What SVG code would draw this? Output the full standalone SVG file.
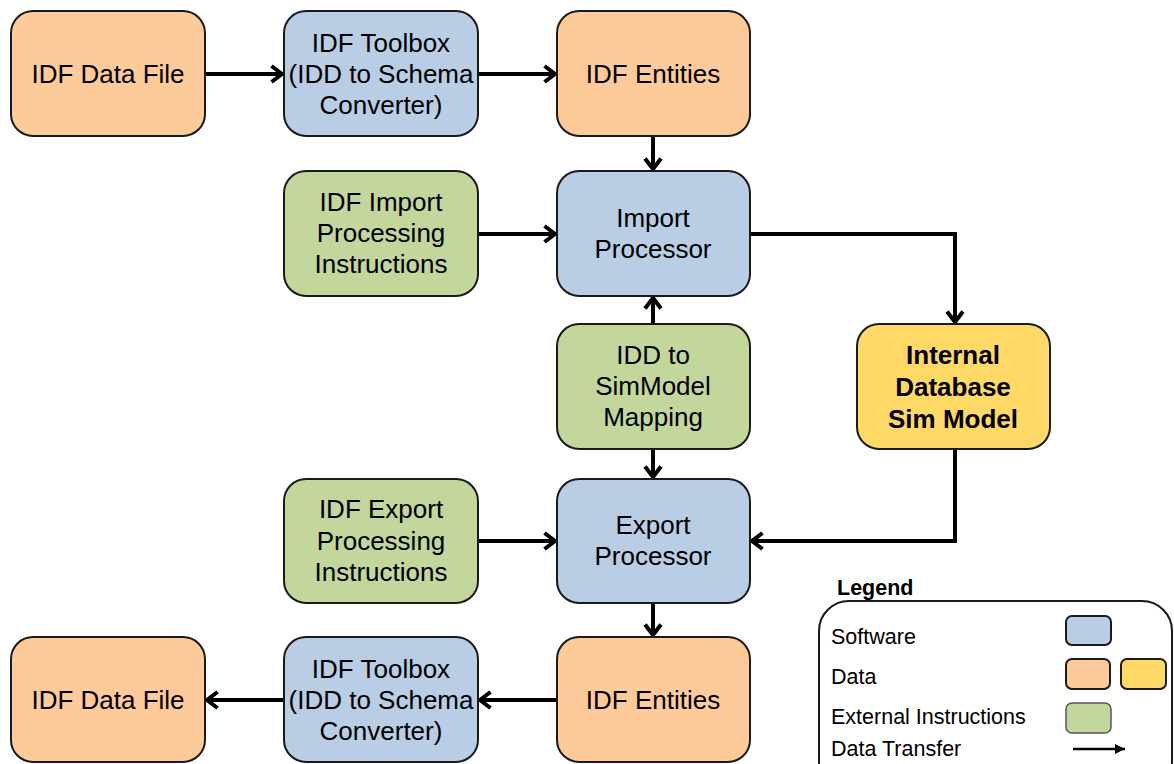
<svg xmlns="http://www.w3.org/2000/svg" width="1174" height="764" viewBox="0 0 1174 764">
<defs>
<style>
.box{stroke:#1a1a1a;stroke-width:2}
.sw{fill:#b9cde5}.da{fill:#fdca9a}.db{fill:#ffd966}.ex{fill:#c3d69b}
.t{font-family:"Liberation Sans",Arial,sans-serif;font-size:26px;fill:#000;text-anchor:middle}
.b{font-weight:bold}
.lg{font-family:"Liberation Sans",Arial,sans-serif;font-size:21.5px;fill:#000}
.c{fill:none;stroke:#000;stroke-width:4}
</style>
<marker id="ah" viewBox="0 0 14 20" refX="12" refY="10" markerWidth="14" markerHeight="20" markerUnits="userSpaceOnUse" orient="auto">
<path d="M1.5,2 L12,10 L1.5,18" fill="none" stroke="#000" stroke-width="4" stroke-linejoin="miter"/>
</marker>
<marker id="ah2" viewBox="0 0 10 10" refX="10" refY="5" markerWidth="11" markerHeight="10" markerUnits="userSpaceOnUse" orient="auto">
<path d="M0,0 L10,5 L0,10 Z" fill="#000"/>
</marker>
</defs>
<rect width="1174" height="764" fill="#fff"/>
<g id="connectors">
<line class="c" x1="205" y1="74" x2="282" y2="74" marker-end="url(#ah)"/>
<line class="c" x1="478" y1="74" x2="555" y2="74" marker-end="url(#ah)"/>
<line class="c" x1="653" y1="136" x2="653" y2="169" marker-end="url(#ah)"/>
<line class="c" x1="478" y1="234" x2="555" y2="234" marker-end="url(#ah)"/>
<polyline class="c" points="750,234 955,234 955,322" marker-end="url(#ah)"/>
<line class="c" x1="653" y1="324" x2="653" y2="298" marker-end="url(#ah)"/>
<line class="c" x1="653" y1="449" x2="653" y2="477" marker-end="url(#ah)"/>
<line class="c" x1="478" y1="541" x2="555" y2="541" marker-end="url(#ah)"/>
<polyline class="c" points="955,449 955,541 752,541" marker-end="url(#ah)"/>
<line class="c" x1="653" y1="603" x2="653" y2="635" marker-end="url(#ah)"/>
<line class="c" x1="557" y1="700" x2="480" y2="700" marker-end="url(#ah)"/>
<line class="c" x1="284" y1="700" x2="207" y2="700" marker-end="url(#ah)"/>
</g>
<g id="idf-data-file-top"><rect class="box da" x="11" y="11" width="194" height="125" rx="22"/><text class="t" x="108" y="83">IDF Data File</text></g>
<g id="idf-toolbox-top"><rect class="box sw" x="284" y="11" width="194" height="125" rx="22"/><text class="t" x="381" y="52">IDF Toolbox</text><text class="t" x="381" y="83">(IDD to Schema</text><text class="t" x="381" y="114">Converter)</text></g>
<g id="idf-entities-top"><rect class="box da" x="557" y="11" width="193" height="125" rx="22"/><text class="t" x="653" y="83">IDF Entities</text></g>
<g id="import-instructions"><rect class="box ex" x="284" y="171" width="194" height="125" rx="22"/><text class="t" x="381" y="211">IDF Import</text><text class="t" x="381" y="242">Processing</text><text class="t" x="381" y="273">Instructions</text></g>
<g id="import-processor"><rect class="box sw" x="557" y="171" width="193" height="125" rx="22"/><text class="t" x="653" y="227">Import</text><text class="t" x="653" y="258">Processor</text></g>
<g id="mapping"><rect class="box ex" x="557" y="324" width="193" height="125" rx="22"/><text class="t" x="653" y="364">IDD to</text><text class="t" x="653" y="395">SimModel</text><text class="t" x="653" y="426">Mapping</text></g>
<g id="internal-db"><rect class="box db" x="857" y="324" width="193" height="125" rx="22"/><text class="t b" x="953" y="364">Internal</text><text class="t b" x="953" y="396">Database</text><text class="t b" x="953" y="428">Sim Model</text></g>
<g id="export-instructions"><rect class="box ex" x="284" y="479" width="194" height="124" rx="22"/><text class="t" x="381" y="518">IDF Export</text><text class="t" x="381" y="550">Processing</text><text class="t" x="381" y="581">Instructions</text></g>
<g id="export-processor"><rect class="box sw" x="557" y="479" width="193" height="124" rx="22"/><text class="t" x="653" y="534">Export</text><text class="t" x="653" y="565">Processor</text></g>
<g id="idf-data-file-bottom"><rect class="box da" x="11" y="637" width="194" height="125" rx="22"/><text class="t" x="108" y="709">IDF Data File</text></g>
<g id="idf-toolbox-bottom"><rect class="box sw" x="284" y="637" width="194" height="125" rx="22"/><text class="t" x="381" y="678">IDF Toolbox</text><text class="t" x="381" y="709">(IDD to Schema</text><text class="t" x="381" y="740">Converter)</text></g>
<g id="idf-entities-bottom"><rect class="box da" x="557" y="637" width="193" height="125" rx="22"/><text class="t" x="653" y="709">IDF Entities</text></g>
<g id="legend">
<text class="lg b" x="837" y="595">Legend</text>
<rect x="819" y="601" width="353" height="190" rx="30" fill="none" stroke="#1a1a1a" stroke-width="2"/>
<text class="lg" x="831" y="644">Software</text>
<text class="lg" x="831" y="684">Data</text>
<text class="lg" x="831" y="724">External Instructions</text>
<text class="lg" x="831" y="756">Data Transfer</text>
<rect class="box sw" x="1066" y="616" width="45" height="29" rx="6"/>
<rect class="box da" x="1066" y="659" width="44" height="30" rx="6"/>
<rect class="box db" x="1121" y="659" width="45" height="30" rx="6"/>
<rect class="ex" x="1066" y="703" width="45" height="30" rx="6" stroke="#555" stroke-width="1.5"/>
<line x1="1073" y1="749" x2="1125" y2="749" stroke="#000" stroke-width="2.5" marker-end="url(#ah2)"/>
</g>
</svg>
